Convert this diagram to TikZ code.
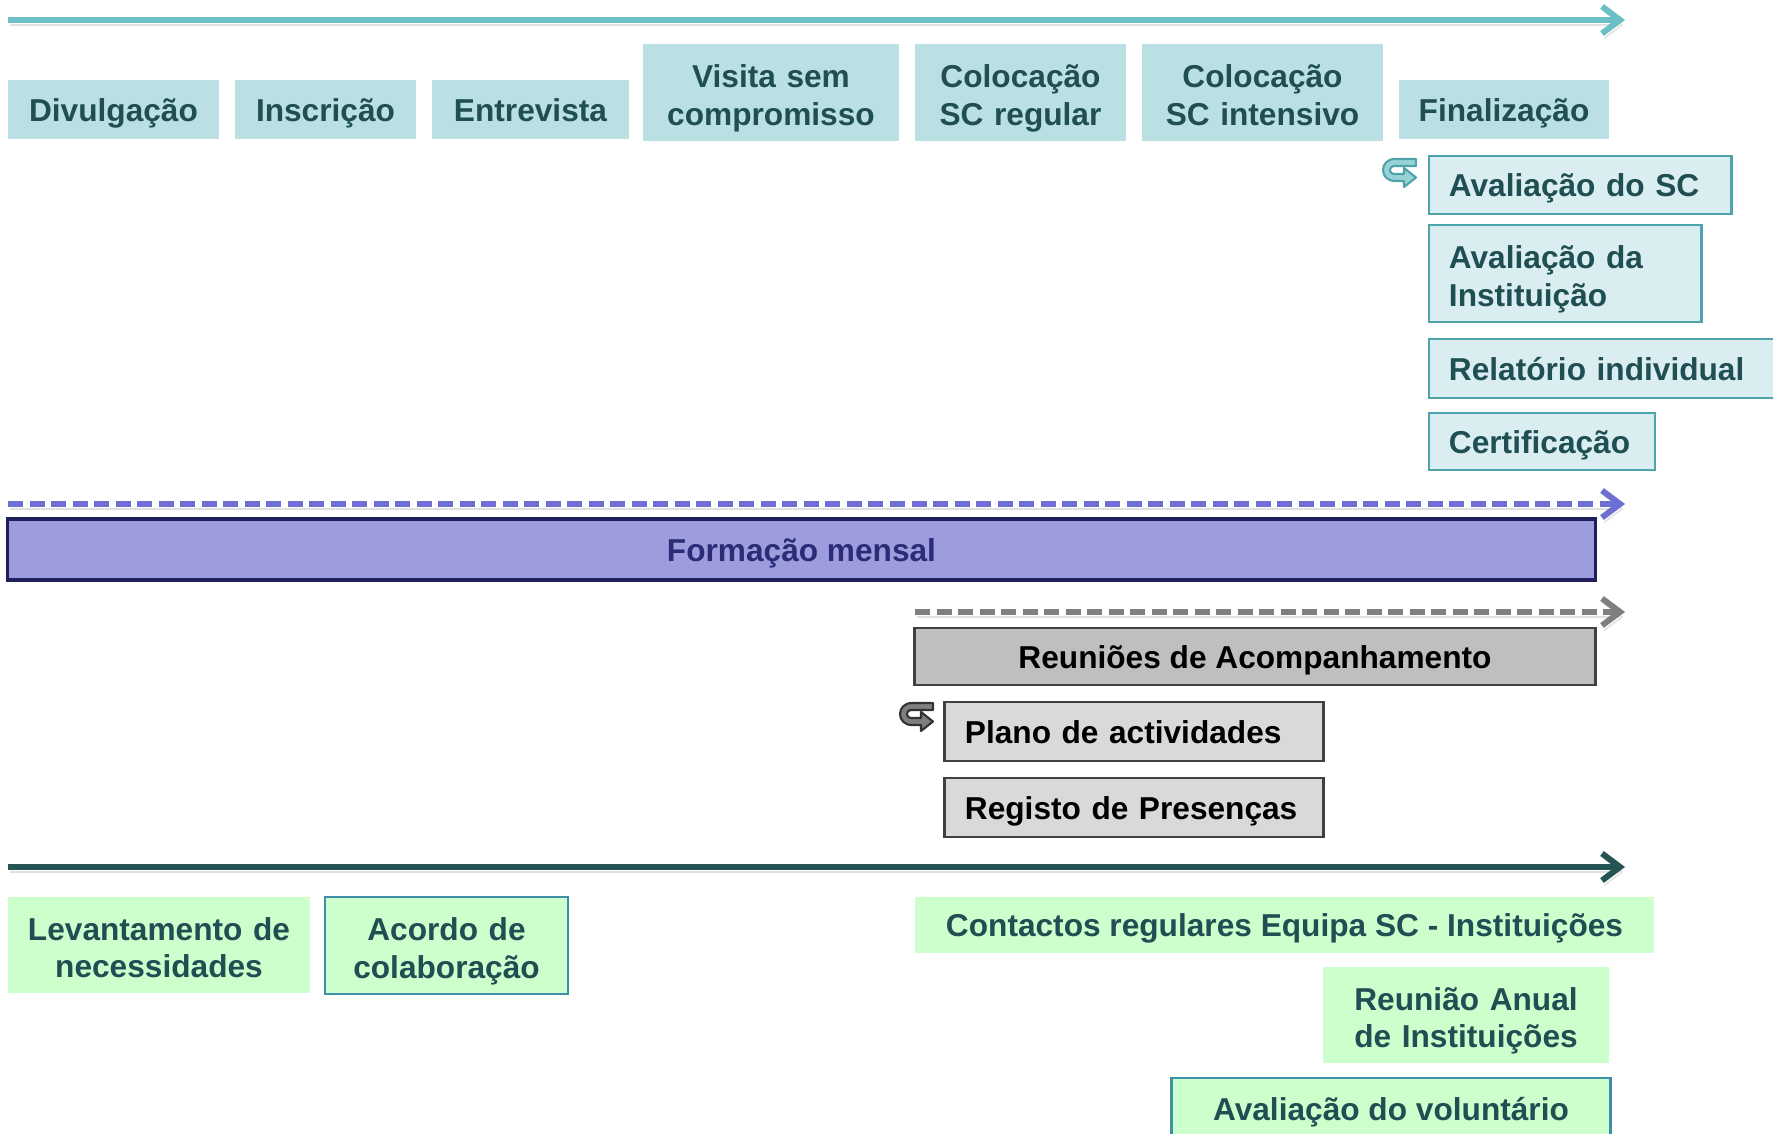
\documentclass[tikz,border=0pt]{standalone}
\usepackage{fontspec}
\setmainfont{Liberation Sans}
\usepackage{tikz}
\usetikzlibrary{arrows.meta,calc}
\definecolor{tealline}{HTML}{6CBFC4}
\definecolor{phasefill}{HTML}{BBE0E3}
\definecolor{phasetext}{HTML}{1F4E53}
\definecolor{taskfill}{HTML}{DAEEF1}
\definecolor{taskline}{HTML}{4FA4AC}
\definecolor{purpleline}{HTML}{6F6FD3}
\definecolor{purplefill}{HTML}{9D9DDD}
\definecolor{purpledark}{HTML}{1F1F5C}
\definecolor{purpletext}{HTML}{2B2B78}
\definecolor{grayline}{HTML}{7F7F7F}
\definecolor{grayfill}{HTML}{BFBFBF}
\definecolor{lightgrayfill}{HTML}{D9D9D9}
\definecolor{graydark}{HTML}{404040}
\definecolor{darkline}{HTML}{245454}
\definecolor{greenfill}{HTML}{CCFFCC}
\definecolor{greenline}{HTML}{3F8FA8}
\tikzset{
  every node/.style={font=\bfseries\fontsize{9}{10.6}\selectfont,inner sep=0pt,
    execute at begin node={\rule{0pt}{8.7pt}},
    execute at end node={\rule[-2pt]{0pt}{2pt}}},
  twoline/.style={execute at begin node={\rule{0pt}{10pt}}},
  timeline/.style={line width=0.06cm,-{Straight Barb[length=0.18cm,width=0.27cm]},
    preaction={draw=black,opacity=0.12,transform canvas={shift={(0.02cm,-0.05cm)}}}},
  dashline/.style={timeline,dash pattern=on 0.15cm off 0.065cm},
  phase/.style={fill=phasefill,text=phasetext,align=center},
  task/.style={fill=taskfill,draw=taskline,line width=0.8pt,text=phasetext,
    align=left,inner xsep=0.2cm},
  meeting/.style={fill=grayfill,draw=graydark,line width=0.8pt,text=black,align=center},
  sheet/.style={fill=lightgrayfill,draw=graydark,line width=0.8pt,text=black,
    align=left,inner xsep=0.2cm},
  inst/.style={fill=greenfill,text=phasetext,align=center},
  uturn/.pic={
    \filldraw[line width=0.6pt,line join=round]
      (34,1) -- (13,1) .. controls (-3,1) and (-3,23) .. (13,23) -- (22,23)
      -- (22,29) -- (34,19.5) -- (22,10) -- (22,16) -- (13,16)
      .. controls (6,16) and (6,8) .. (13,8) -- (34,8) -- cycle;
  }
}

\begin{document}
\begin{tikzpicture}[x=0.01cm,y=-0.01cm]
  \useasboundingbox (0,0) rectangle (1773,1133);
  \clip (0,0) rectangle (1773,1133);

  % volunteer path
  \coordinate (volA) at (8,20);
  \coordinate (volB) at (1625,20);
  \draw[timeline,tealline] (volA) -- (volB);
  \node[phase,minimum width=2.11cm,minimum height=0.59cm] (divulg) at (113.5,109.5) {Divulgação};
  \node[phase,minimum width=1.81cm,minimum height=0.59cm] (inscr) at (325.5,109.5) {Inscrição};
  \node[phase,minimum width=1.97cm,minimum height=0.59cm] (entrev) at (530.5,109.5) {Entrevista};
  \node[phase,twoline,text width=2.56cm,minimum height=0.97cm] (visita) at (771,92.5) {Visita sem\\compromisso};
  \node[phase,twoline,text width=2.11cm,minimum height=0.97cm] (colreg) at (1020.5,92.5) {Colocação\\SC regular};
  \node[phase,twoline,text width=2.41cm,minimum height=0.97cm] (colint) at (1262.5,92.5) {Colocação\\SC intensivo};
  \node[phase,minimum width=2.10cm,minimum height=0.59cm] (final) at (1504,109.5) {Finalização};

  \pic[fill=tealline!70,draw=taskline] at (1382,158) {uturn};
  \node[task,text width=2.62cm,minimum height=0.58cm] (avalsc) at (1580,185) {Avaliação do SC};
  \node[task,twoline,text width=2.32cm,minimum height=0.97cm] (avalinst) at (1565,273.5) {Avaliação da\\Instituição};
  \node[task,text width=3.31cm,minimum height=0.59cm] (relat) at (1614.5,368.5) {Relatório individual};
  \node[task,text width=1.86cm,minimum height=0.57cm] (certif) at (1542,441.5) {Certificação};

  % training
  \coordinate (trainA) at (8,504);
  \coordinate (trainB) at (1625,504);
  \draw[dashline,purpleline] (trainA) -- (trainB);
  \node[fill=purplefill,draw=purpledark,line width=1pt,text=purpletext,
    minimum width=15.87cm,minimum height=0.61cm] (formacao) at (801.5,549.5) {Formação mensal};

  % follow-up
  \coordinate (followA) at (915,612);
  \coordinate (followB) at (1625,612);
  \draw[dashline,grayline] (followA) -- (followB);
  \node[meeting,minimum width=6.80cm,minimum height=0.57cm] (reunioes) at (1255,656.5) {Reuniões de Acompanhamento};
  \pic[fill=grayline,draw=black!80] at (899,702) {uturn};
  \node[sheet,text width=3.38cm,minimum height=0.59cm] (plano) at (1134,731.5) {Plano de actividades};
  \node[sheet,text width=3.38cm,minimum height=0.59cm] (registo) at (1134,807.5) {Registo de Presenças};

  % institutions
  \coordinate (instA) at (8,867);
  \coordinate (instB) at (1625,867);
  \draw[timeline,darkline] (instA) -- (instB);
  \node[inst,twoline,text width=3.02cm,minimum height=0.96cm] (levant) at (159,945) {Levantamento de\\necessidades};
  \node[inst,twoline,draw=greenline,line width=0.8pt,text width=2.43cm,minimum height=0.97cm] (acordo) at (446.5,945.5) {Acordo de\\colaboração};
  \node[inst,minimum width=7.39cm,minimum height=0.56cm] (contact) at (1284.5,925) {Contactos regulares Equipa SC - Instituições};
  \node[inst,twoline,text width=2.86cm,minimum height=0.96cm] (reuniao) at (1466,1015) {Reunião Anual\\de Instituições};
  \node[inst,draw=greenline,line width=0.8pt,minimum width=4.38cm,minimum height=0.62cm] (avalvol) at (1391,1109) {Avaliação do voluntário};
\end{tikzpicture}
\end{document}
